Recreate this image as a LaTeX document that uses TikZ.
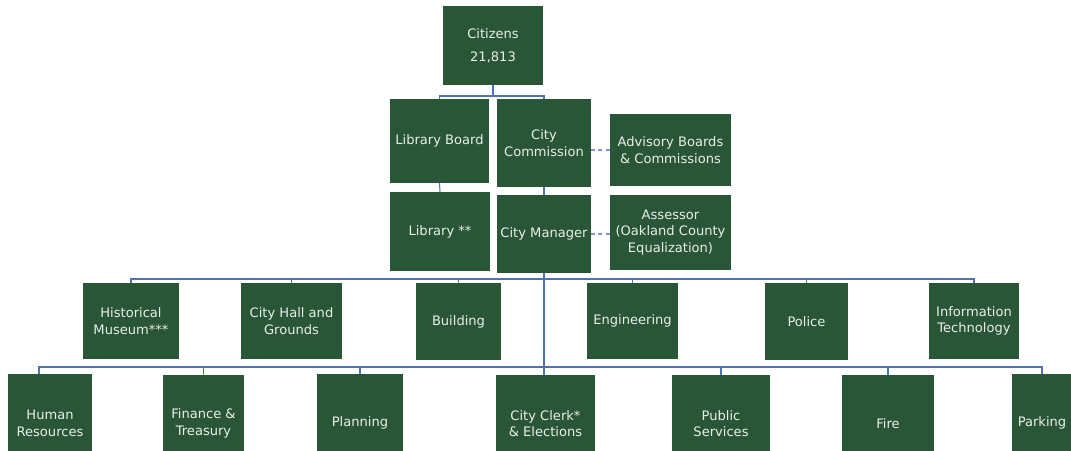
\documentclass[tikz,border=0pt]{standalone}
\usepackage{fontspec}
\setmainfont{DejaVu Sans}
\definecolor{boxgreen}{HTML}{2A5638}
\definecolor{boxtext}{HTML}{E8EEE8}
\definecolor{linkblue}{HTML}{4E72B6}
\definecolor{dashblue}{HTML}{7D96C6}
\tikzset{
  orgnode/.style={fill=boxgreen, draw=none, inner sep=0pt, outer sep=0pt,
    text=boxtext, align=center, font=\fontsize{9.8}{12.5}\selectfont},
  conn/.style={draw=linkblue, line width=0.8pt},
  dashconn/.style={draw=dashblue, line width=0.8pt, dash pattern=on 3pt off 2.5pt},
}
% box from (x1,y1) to (x2,y2) in pixel units, y growing downward
\newcommand\orgbox[6]{%
  \node[orgnode, minimum width={(#4-#2)*0.75pt}, minimum height={(#5-#3)*0.75pt}]
    (#1) at ({(#2+#4)/2},{(#3+#5)/2}) {#6};}
\begin{document}
\begin{tikzpicture}[x=0.75pt, y=-0.75pt]
\fill[white] (0,0) rectangle (1071,450);
\useasboundingbox (0,0) rectangle (1071,450);

% top levels
\orgbox{cit}{443}{6}{543}{85}{Citizens\\[4.5pt]21,813}
\orgbox{lb}{390}{99}{489}{183}{Library Board}
\orgbox{cc}{497}{99}{591}{187}{City\\Commission}
\orgbox{adv}{610}{114}{731}{186}{Advisory Boards\\\& Commissions}
\orgbox{lib}{390}{192}{490}{271}{Library **}
\orgbox{cm}{497}{195}{591}{273}{City Manager}
\orgbox{as}{610}{195}{731}{270}{Assessor\\(Oakland County\\Equalization)}

% departments, first row
\orgbox{hm}{83}{283}{179}{359}{Historical\\Museum***}
\orgbox{ch}{241}{283}{342}{359}{City Hall and\\Grounds}
\orgbox{bd}{416}{283}{501}{360}{Building}
\orgbox{en}{587}{283}{678}{359}{Engineering}
\orgbox{po}{765}{283}{848}{360}{Police}
\orgbox{it}{929}{283}{1019}{359}{Information\\Technology}

% departments, second row
\orgbox{hr}{8}{374}{92}{472}{Human\\Resources}
\orgbox{fi}{163}{375}{244}{472}{Finance \&\\Treasury}
\orgbox{pl}{317}{374}{403}{472}{Planning}
\orgbox{clerk}{496}{375}{595}{472}{City Clerk*\\\& Elections}
\orgbox{ps}{672}{375}{770}{472}{Public\\Services}
\orgbox{fire}{842}{375}{934}{472}{Fire}
\orgbox{park}{1012}{374}{1072}{472}{Parking}

% bus lines
\coordinate (bus1) at (0,96);
\coordinate (bus2) at (0,279);
\coordinate (bus3) at (0,367);

% citizens to boards
\draw[conn] (cit.south) -- (cit.south |- bus1);
\draw[conn] (lb.north) -- (lb.north |- bus1) -- (cc.north |- bus1) -- (cc.north);
\draw[conn] (lb.south) -- (lib.north);
\draw[conn] (cc.south) -- (cm.north);
\draw[dashconn] (adv.west -| cc.east) -- (adv.west);
\draw[dashconn] (cm.east) -- (cm.east -| as.west);

% trunk from the city manager
\draw[conn] (cm.south) -- (cm.south |- clerk.north);

% first row of departments
\draw[conn] (hm.north) -- (hm.north |- bus2) -- (it.north |- bus2) -- (it.north);
\foreach \d in {ch,bd,en,po}
  \draw[conn] (\d.north) -- (\d.north |- bus2);

% second row of departments
\coordinate (hrtop) at ([xshift=-8.25pt]hr.north);
\draw[conn] (hrtop) -- (hrtop |- bus3) -- (park.north |- bus3) -- (park.north);
\foreach \d in {fi,pl,ps,fire}
  \draw[conn] (\d.north) -- (\d.north |- bus3);
\end{tikzpicture}
\end{document}
